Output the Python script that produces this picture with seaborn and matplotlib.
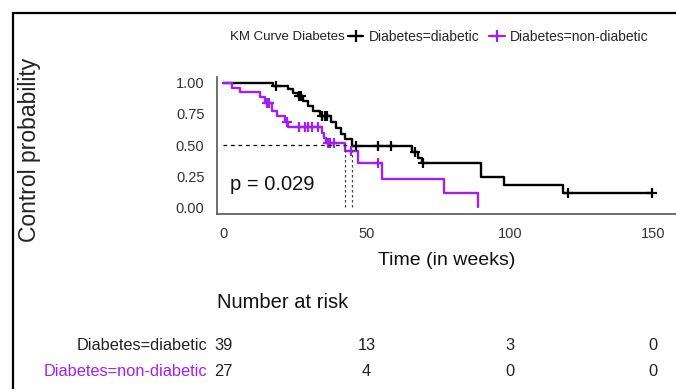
import numpy as np
import pandas as pd
import matplotlib
matplotlib.use("Agg")
import matplotlib.pyplot as plt
from matplotlib.lines import Line2D
from matplotlib.patches import Rectangle
from matplotlib import font_manager
import seaborn as sns

# ---------------- data ----------------
groups = ["Diabetes=diabetic", "Diabetes=non-diabetic"]
colors = ["#000000", "#A020F0"]

dia_time = [0, 17.5, 22.5, 24.5, 26, 28, 29.5, 31.5, 34, 37.5, 39.5, 41, 42.5, 45,
            66, 68, 69.5, 90, 98, 118.5, 149.5]
dia_surv = [1.0, 0.974, 0.949, 0.923, 0.897, 0.857, 0.814, 0.772, 0.730, 0.686, 0.636,
            0.590, 0.545, 0.492, 0.44, 0.395, 0.352, 0.24, 0.175, 0.115, 0.115]
dia_cens = [18.5, 26.5, 27.2, 34.5, 35.5, 36.3, 46.5, 54, 58.5, 67, 69.8, 120.5, 149.5]

non_time = [0, 3, 6, 13, 14.7, 17, 19, 21.7, 22.7, 34.5, 35.3, 36, 42.7, 47, 55.6, 77, 89]
non_surv = [1.0, 0.963, 0.926, 0.885, 0.84, 0.77, 0.73, 0.685, 0.645, 0.595, 0.555,
            0.515, 0.45, 0.355, 0.23, 0.115, 0.0]
non_cens = [15.3, 16.2, 22.2, 26.5, 28.5, 29.8, 31.2, 33, 36.5, 37.3, 38.8, 44.5, 54]

medians = [45, 42.7]
p_text = "p = 0.029"

risk_times = [0, 50, 100, 150]
risk_dia = [39, 13, 3, 0]
risk_non = [27, 4, 0, 0]

x_ticks = [0, 50, 100, 150]
y_ticks = [0.0, 0.25, 0.50, 0.75, 1.00]

# ---------------- fonts ----------------
sns.set_style("white")
names = {f.name for f in font_manager.fontManager.ttflist}
REG = "Liberation Sans" if "Liberation Sans" in names else "DejaVu Sans"
plt.rcParams["font.family"] = [REG, "DejaVu Sans"]

W, H = 676, 389
fig = plt.figure(figsize=(W / 100, H / 100), dpi=100)
ax = fig.add_axes([217 / W, 1 - 213.5 / H, 1 - 217 / W, (213.5 - 77) / H])

curves = pd.concat([
    pd.DataFrame({"time": dia_time, "surv": dia_surv, "group": groups[0]}),
    pd.DataFrame({"time": non_time, "surv": non_surv, "group": groups[1]}),
])
for g, c in zip(groups, colors):
    sns.lineplot(data=curves[curves.group == g], x="time", y="surv", color=c,
                 drawstyle="steps-post", estimator=None, sort=False, lw=1.7,
                 ax=ax, legend=False)


def surv_at(times, surv, ts):
    times = np.asarray(times)
    surv = np.asarray(surv)
    idx = np.searchsorted(times, ts, side="right") - 1
    return surv[idx]


cens = pd.concat([
    pd.DataFrame({"time": dia_cens, "surv": surv_at(dia_time, dia_surv, dia_cens), "group": groups[0]}),
    pd.DataFrame({"time": non_cens, "surv": surv_at(non_time, non_surv, non_cens), "group": groups[1]}),
])
for g, c in zip(groups, colors):
    sub = cens[cens.group == g]
    ax.plot(sub.time, sub.surv, ls="none", marker="+", ms=7.5, mew=1.6, color=c)

# median lines
ax.plot([0, max(medians)], [0.5, 0.5], color="black", lw=0.9, ls=(0, (3, 3)))
for m in medians:
    ax.plot([m, m], [0, 0.5], color="#444444", lw=0.9, ls=(0, (2, 2)))

ax.set_xlim(-2.1, 158)
ax.set_ylim(-0.052, 1.048)
ax.set_xticks(x_ticks)
ax.set_xticklabels([str(v) for v in x_ticks])
ax.set_yticks(y_ticks)
ax.set_yticklabels([f"{v:.2f}" for v in y_ticks])
for s in ["top", "right"]:
    ax.spines[s].set_visible(False)
for s in ["left", "bottom"]:
    ax.spines[s].set_color("#555555")
    ax.spines[s].set_linewidth(1.2)
ax.tick_params(axis="both", length=3, width=0.8, color="#555555", labelsize=10.5,
               labelcolor="#333333", direction="out")
ax.tick_params(axis="y", pad=6)
ax.tick_params(axis="x", pad=6.5)
ax.set_xlabel("Time (in weeks)", fontsize=14, color="#111111")
ax.xaxis.label.set_va("center")
ax.xaxis.set_label_coords(0.5, (213.5 - 260) / 136.5)
ax.set_ylabel("")
ax.set_facecolor("white")

fig.text(30 / W, 1 - 150 / H, "Control probability", rotation=90, ha="center", va="center",
         fontsize=16.5, color="#222222")

fig.text(272 / W, 1 - 185 / H, p_text, ha="center", va="center", fontsize=14.5, color="#111111")

# legend
fig.text(345 / W, 1 - 37 / H, "KM Curve Diabetes", ha="right", va="center", fontsize=9.5,
         color="#222222")
handles = [Line2D([0], [0], color=c, lw=1.6, marker="+", ms=8, mew=1.6) for c in colors]
fig.legend(handles, groups, loc="center left", bbox_to_anchor=(348 / W, 1 - 37 / H),
           ncol=2, frameon=False, fontsize=10, handlelength=1.1, handletextpad=0.4,
           columnspacing=0.7, borderaxespad=0, borderpad=0)

# risk table
fig.text(217 / W, 1 - 302 / H, "Number at risk", ha="left", va="center", fontsize=14.5,
         color="#111111")
trans = matplotlib.transforms.blended_transform_factory(ax.transData, fig.transFigure)
rows_y = [1 - 345 / H, 1 - 372 / H]
for g, c, vals, yy in zip(groups, colors, [risk_dia, risk_non], rows_y):
    fig.text(207 / W, yy, g, ha="right", va="center", fontsize=11.8,
             color=c if c != "#000000" else "#222222")
    for t, v in zip(risk_times, vals):
        ax.text(t, yy, str(v), transform=trans, ha="center", va="center", fontsize=11.8,
                color="#222222", clip_on=False)

fig.patches.append(Rectangle((13 / W, -0.1), 1.2, 1 - 13 / H + 0.1, transform=fig.transFigure,
                             fill=False, edgecolor="black", lw=1.6))

fig.savefig("out.png", dpi=100, facecolor="white")
